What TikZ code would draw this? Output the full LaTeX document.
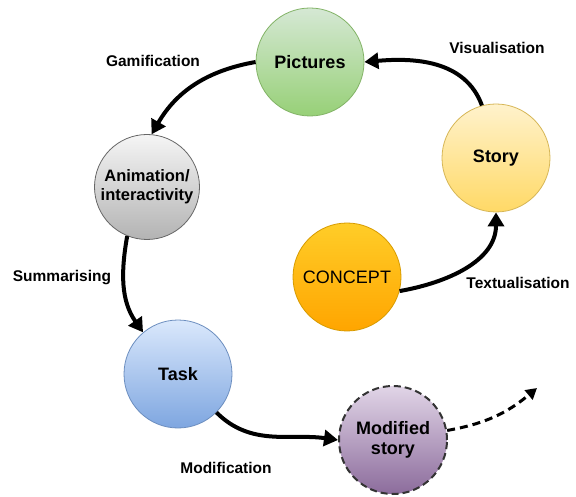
\documentclass[tikz,border=0pt]{standalone}
\usepackage{fontspec}
\setmainfont{Liberation Sans}
\usepackage{tikz}
\usetikzlibrary{arrows.meta,positioning}
\definecolor{PicTop}{HTML}{D5E8D4}
\definecolor{PicBot}{HTML}{97D077}
\definecolor{PicLine}{HTML}{82B366}
\definecolor{AniTop}{HTML}{F5F5F5}
\definecolor{AniBot}{HTML}{B3B3B3}
\definecolor{AniLine}{HTML}{666666}
\definecolor{StoTop}{HTML}{FFF2CC}
\definecolor{StoBot}{HTML}{FFD966}
\definecolor{StoLine}{HTML}{D6B656}
\definecolor{ConTop}{HTML}{FFCD28}
\definecolor{ConBot}{HTML}{FFA500}
\definecolor{ConLine}{HTML}{D79B00}
\definecolor{TskTop}{HTML}{DAE8FC}
\definecolor{TskBot}{HTML}{7EA6E0}
\definecolor{TskLine}{HTML}{6C8EBF}
\definecolor{ModTop}{HTML}{E1D5E7}
\definecolor{ModBot}{HTML}{8C6C9C}
\definecolor{ModLine}{HTML}{333333}

\begin{document}
\begin{tikzpicture}[
    x=1pt, y=-1pt,
    bubble/.style={circle, minimum size=108pt, inner sep=0pt, align=center, line width=0.8pt,
                   font=\bfseries\fontsize{18}{20}\selectfont},
    lbl/.style={font=\bfseries\fontsize{15.5}{17}\selectfont},
    flow/.style={-{Triangle[length=14pt,width=16pt]}, line width=4pt},
  ]
    \useasboundingbox (0,0) rectangle (576,497);

    % ---- circles ----
    \node[bubble, draw=PicLine, top color=PicTop, bottom color=PicBot] (pictures) at (310,62) {Pictures};
    \node[bubble, draw=StoLine, top color=StoTop, bottom color=StoBot] (story) at (496,158) {Story};
    \node[bubble, draw=ConLine, top color=ConTop, bottom color=ConBot,
          font=\fontsize{18}{20}\selectfont] (concept) at (347,277) {CONCEPT};
    \node[bubble, draw=AniLine, top color=AniTop, bottom color=AniBot, minimum size=105pt,
          font=\bfseries\fontsize{16.5}{19}\selectfont] (anim) at (147,187) {Animation/\\interactivity};
    \node[bubble, draw=TskLine, top color=TskTop, bottom color=TskBot] (task) at (178,374) {Task};
    \node[bubble, draw=ModLine, top color=ModTop, bottom color=ModBot, line width=2pt,
          dash pattern=on 7pt off 4pt] (modified) at (393,440) {Modified\\story};
    \coordinate (next) at (537,388);

    % ---- labels ----
    \node[lbl] (gam) at (153,61) {Gamification};
    \node[lbl] (vis) at (497,48) {Visualisation};
    \node[lbl] (sum) at (62,278) {Summarising};
    \node[lbl] (tex) at (518,283) {Textualisation};
    \node[lbl] (mod) at (226,468) {Modification};

    % ---- arrows ----
    \draw[flow] (story.105) to[out=110, in=5] (pictures.east);
    \draw[flow] (pictures.west) to[out=190, in=60] (anim.85);
    \draw[flow] (anim.-112) to[out=260, in=125] (task.130);
    \draw[flow] (task.-45) to[out=-45, in=172] (modified.west);
    \draw[flow] (concept.-15) to[out=10, in=-90] (story.south);
    \draw[-{Triangle[length=11pt,width=12pt]}, line width=3pt, dash pattern=on 8pt off 5pt]
      (modified.10) to[out=10, in=-140] (next);
  \end{tikzpicture}
\end{document}
